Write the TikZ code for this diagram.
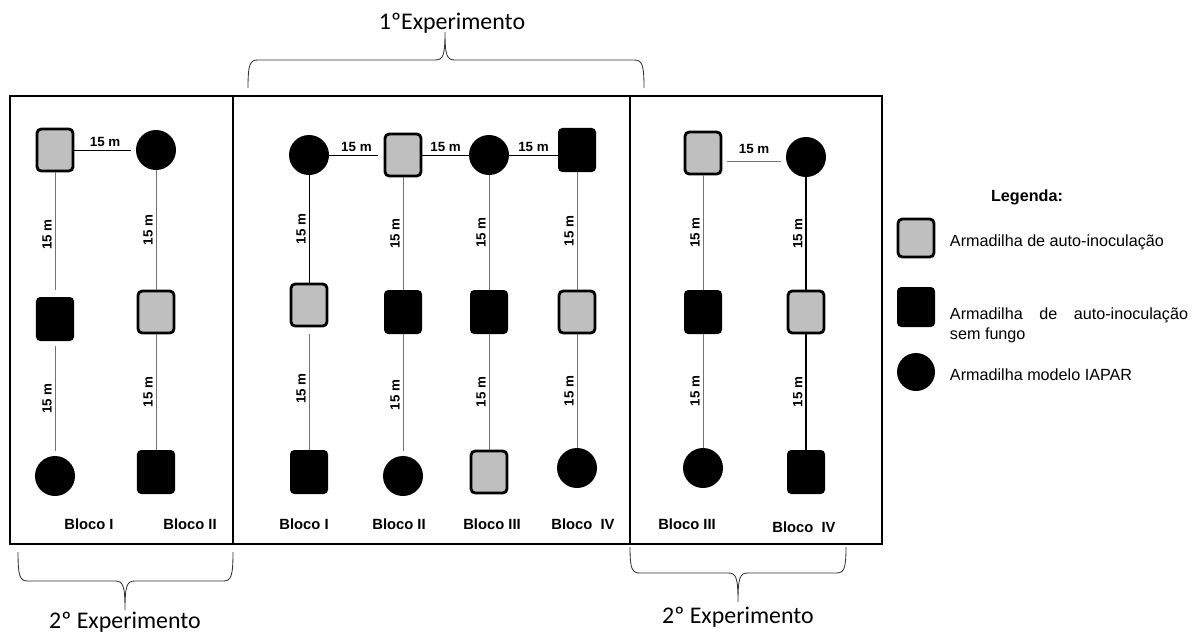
\documentclass[tikz,border=0pt]{standalone}
\usepackage{fontspec}
\setmainfont{Liberation Sans}
\newfontfamily\calibri{Carlito}

\tikzset{
  cinza/.style={draw=black, line width=2pt, fill=black!25, rounded corners=3pt, minimum width=0.9cm, minimum height=1.05cm, inner sep=0pt},
  preta/.style={fill=black, rounded corners=3pt, minimum width=0.95cm, minimum height=1.1cm, inner sep=0pt},
  iapar/.style={circle, fill=black, minimum size=1cm, inner sep=0pt},
  ligacao/.style={draw=black!55, line width=0.6pt},
  ligacaopreta/.style={draw=black, line width=0.6pt},
  ligacaogrossa/.style={draw=black, line width=1.1pt},
  folga/.style={shorten >=3.5pt, shorten <=3.5pt},
  dist/.style={font=\fontsize{9.5}{10}\selectfont\bfseries, inner sep=2pt},
  bloco/.style={font=\fontsize{10.5}{12}\selectfont\bfseries},
  moldura/.style={line width=1.6pt},
  chave/.style={line width=0.6pt, draw=black!80},
  experimento/.style={font=\calibri\fontsize{17}{20}\selectfont},
  legenda/.style={font=\fontsize{11.5}{14}\selectfont, anchor=west, align=left}
}

\begin{document}
\begin{tikzpicture}[x=0.025cm, y=-0.025cm]

\useasboundingbox (0,0) rectangle (1200,632);

\draw[moldura] (10,96) rectangle (882,544);
\draw[moldura] (233,96) -- (233,544);
\draw[moldura] (630,96) -- (630,544);

\draw[chave] (248,88) .. controls (248,64) and (250,60) .. (258,60) -- (435,60)
  .. controls (443,60) and (445,56) .. (445,32) .. controls (445,56) and (447,60) .. (455,60)
  -- (634,60) .. controls (642,60) and (644,64) .. (644,88);
\node[experimento] (exp1) at (452,23) {1ºExperimento};

\draw[chave] (18,552) .. controls (18,577) and (20,581) .. (28,581) -- (115,581)
  .. controls (123,581) and (125,585) .. (125,610) .. controls (125,585) and (127,581) .. (135,581)
  -- (223,581) .. controls (231,581) and (233,577) .. (233,552);
\node[experimento] (exp2a) at (125,622) {2º Experimento};

\draw[chave] (630,547) .. controls (630,569) and (632,573) .. (640,573) -- (728,573)
  .. controls (736,573) and (738,577) .. (738,602) .. controls (738,577) and (740,573) .. (748,573)
  -- (836,573) .. controls (844,573) and (846,569) .. (846,547);
\node[experimento] (exp2b) at (738,617) {2º Experimento};

\node[cinza] (l1a) at (55,150) {};
\node[preta] (l1b) at (55,319) {};
\node[iapar] (l1c) at (55,476) {};
\node[iapar] (l2a) at (156,150) {};
\node[cinza] (l2b) at (156,312) {};
\node[preta] (l2c) at (156,472) {};

\draw[ligacaopreta, shorten >=3.5pt] (l1a) -- node[dist, above] (d1) {15 m} (l2a);
\draw[ligacao, shorten <=5pt] (l1b) -- node[dist, above, sloped] (d2) {15 m} (l1a);
\draw[ligacao, folga] (l1c) -- node[dist, above, sloped] (d3) {15 m} (l1b);
\draw[ligacao] (l2b) -- node[dist, above, sloped] (d4) {15 m} (l2a);
\draw[ligacao] (l2c) -- node[dist, above, sloped] (d5) {15 m} (l2b);
\node[bloco] (bl1) at (89,524) {Bloco I};
\node[bloco] (bl2) at (190,524) {Bloco II};

\node[iapar] (m1a) at (309,155) {};
\node[cinza] (m1b) at (309,305) {};
\node[preta] (m1c) at (309,472) {};
\node[cinza] (m2a) at (403,155) {};
\node[preta] (m2b) at (403,312) {};
\node[iapar] (m2c) at (403,476) {};
\node[iapar] (m3a) at (489,155) {};
\node[preta] (m3b) at (489,312) {};
\node[cinza] (m3c) at (489,472) {};
\node[preta] (m4a) at (577,150) {};
\node[cinza] (m4b) at (577,312) {};
\node[iapar] (m4c) at (577,468) {};

\draw[ligacaopreta, shorten >=4.3pt] (m1a) -- node[dist, above] (d6) {15 m} (m2a);
\draw[ligacaopreta] (m2a) -- node[dist, above] (d7) {15 m} (m3a);
\draw[ligacaopreta] (m3a) -- node[dist, above] (d8) {15 m} (m3a -| m4a.west);
\draw[ligacaopreta] (m1b) -- node[dist, above, sloped] (d9) {15 m} (m1a);
\draw[ligacao, shorten >=5pt] (m1c) -- node[dist, above, sloped] (d10) {15 m} (m1b);
\draw[ligacao] (m2b) -- node[dist, above, sloped] (d11) {15 m} (m2a);
\draw[ligacao, shorten <=3.5pt] (m2c) -- node[dist, above, sloped] (d12) {15 m} (m2b);
\draw[ligacao] (m3b) -- node[dist, above, sloped] (d13) {15 m} (m3a);
\draw[ligacao] (m3c) -- node[dist, above, sloped] (d14) {15 m} (m3b);
\draw[ligacao] (m4b) -- node[dist, above, sloped] (d15) {15 m} (m4a);
\draw[ligacao] (m4c) -- node[dist, above, sloped] (d16) {15 m} (m4b);
\node[bloco] (bm1) at (304,524) {Bloco I};
\node[bloco] (bm2) at (399,524) {Bloco II};
\node[bloco] (bm3) at (492,524) {Bloco III};
\node[bloco] (bm4) at (583,524) {Bloco\ \ IV};

\node[cinza] (r1a) at (703,153) {};
\node[preta] (r1b) at (703,312) {};
\node[iapar] (r1c) at (703,468) {};
\node[iapar] (r2a) at (806,157) {};
\node[cinza] (r2b) at (806,312) {};
\node[preta] (r2c) at (806,472) {};

\draw[ligacao, folga] (r1a.east |- 0,161) -- node[dist, above=3pt] (d17) {15 m} (r2a.west |- 0,161);
\draw[ligacao] (r1b) -- node[dist, above, sloped] (d18) {15 m} (r1a);
\draw[ligacao] (r1c) -- node[dist, above, sloped] (d19) {15 m} (r1b);
\draw[ligacaogrossa] (r2b) -- node[dist, above, sloped] (d20) {15 m} (r2a);
\draw[ligacaogrossa] (r2c) -- node[dist, above, sloped] (d21) {15 m} (r2b);
\node[bloco] (br1) at (687,524) {Bloco III};
\node[bloco] (br2) at (804,527) {Bloco\ \ IV};

\node[font=\fontsize{11.5}{13}\selectfont\bfseries] (leg) at (1027,197) {Legenda:};
\node[cinza, minimum height=0.95cm] (lega) at (916,238) {};
\node[legenda] (txta) at (945,242) {Armadilha de auto-inoculação};
\node[preta, minimum height=1cm] (legb) at (916,307) {};
\node[legenda] (txtb) at (945,325) {\makebox[5.95cm][s]{Armadilha de auto-inoculação}\\sem fungo};
\node[iapar, minimum size=0.95cm] (legc) at (916,372) {};
\node[legenda] (txtc) at (945,375) {Armadilha modelo IAPAR};

\end{tikzpicture}
\end{document}
